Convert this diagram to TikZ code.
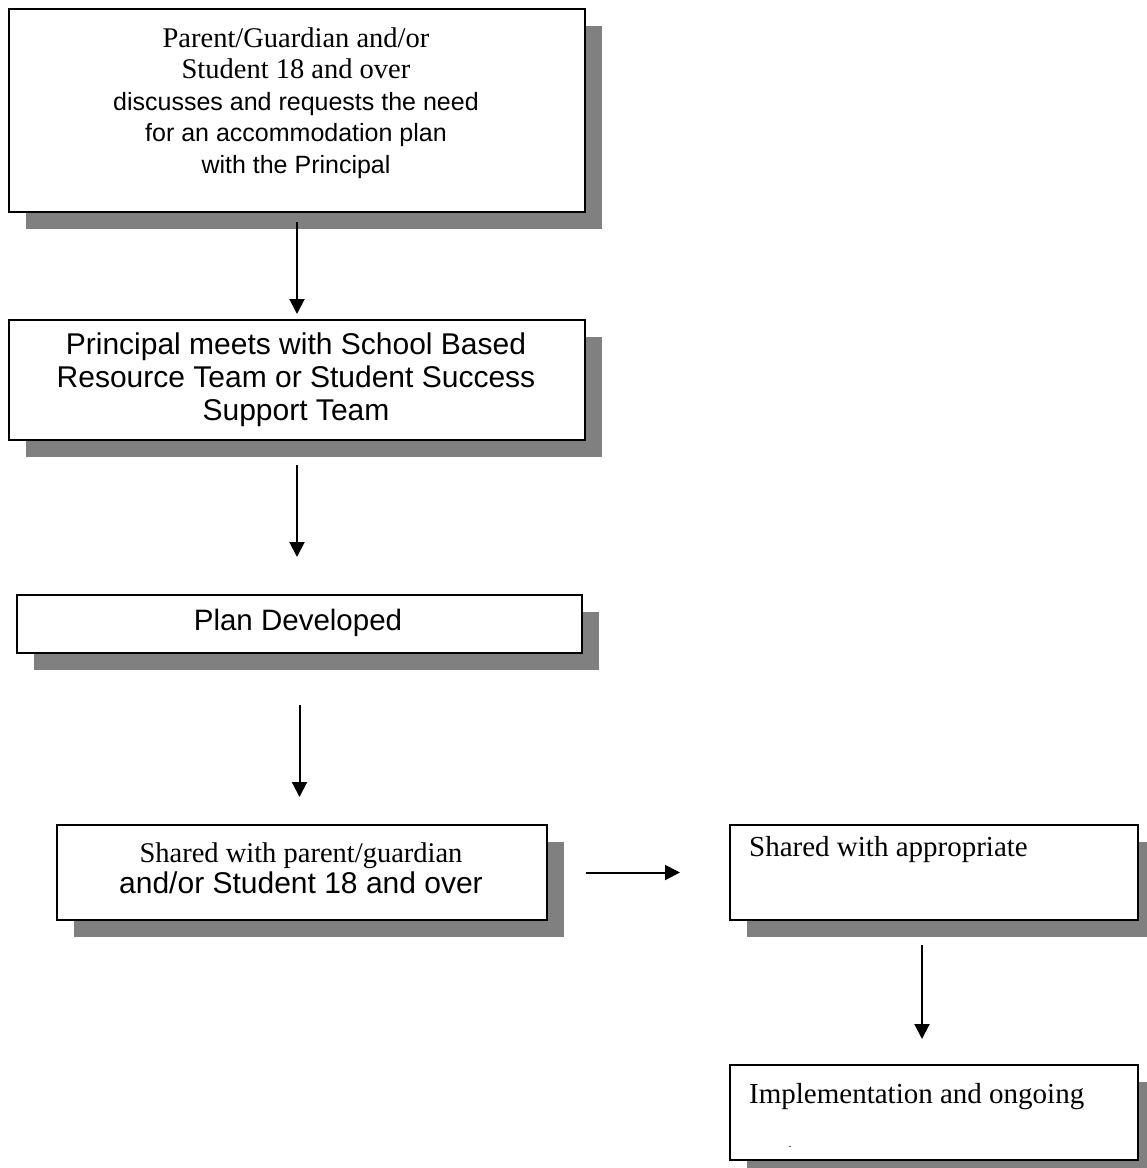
\documentclass[tikz,border=0pt]{standalone}
\usepackage{fontspec}
\setmainfont{Liberation Serif}
\setsansfont{Liberation Sans}
\usetikzlibrary{shadows,arrows.meta}
\definecolor{shadowgray}{HTML}{808080}
\tikzset{
  box/.style={draw=black, line width=2pt, fill=white, anchor=north west, inner sep=0pt,
    drop shadow={shadow xshift=17pt, shadow yshift=-17pt, fill=shadowgray, opacity=1}},
  arr/.style={line width=2pt, -{Triangle[length=15pt,width=15pt]}},
  sf/.style={font=\fontsize{30}{33}\selectfont\sffamily, align=center, inner sep=0pt},
  rm/.style={font=\fontsize{29}{31.5}\selectfont\rmfamily, inner sep=0pt},
}
\newcommand{\serifline}[1]{{\fontsize{28.5}{31.5}\selectfont\rmfamily #1}}
\begin{document}
\begin{tikzpicture}[x=1pt,y=-1pt]
\useasboundingbox (0,0) rectangle (1147,1168);
% boxes
\node[box, minimum width=576pt, minimum height=203pt] (b1) at (8,8) {};
\node[box, minimum width=576pt, minimum height=120pt] (b2) at (8,319) {};
\node[box, minimum width=565pt, minimum height=58pt] (b3) at (16,594) {};
\node[box, minimum width=490pt, minimum height=95pt] (b4) at (56,824) {};
\node[box, minimum width=408pt, minimum height=95pt] (b5) at (729,824) {};
\node[box, minimum width=408pt, minimum height=95pt] (b6) at (729,1064) {};
% texts
\node[sf, font=\fontsize{25}{31.5}\selectfont\sffamily] (t1) at (296,103) {\serifline{Parent/Guardian and/or}\\\serifline{Student 18 and over}\\discusses and requests the need\\for an accommodation plan\\with the Principal};
\node[sf] (t2) at (296,380) {Principal meets with School Based\\Resource Team or Student Success\\Support Team};
\node[sf, font=\fontsize{29.5}{31}\selectfont\sffamily] (t3) at (298,623) {Plan Developed};
\node[sf, font=\fontsize{30}{31}\selectfont\sffamily] (t4) at (301,868) {\serifline{Shared with parent/guardian}\\and/or Student 18 and over};
\node[rm, anchor=base west] (t5) at (749,856) {Shared with appropriate};
\node[rm, anchor=base west] (t6) at (749,1103) {Implementation and ongoing};
\node[font=\fontsize{12}{12}\selectfont, inner sep=0pt] (d6) at (790,1147) {.};
% connectors
\draw[arr, shorten <=9pt, shorten >=5pt] (b1.south) -- (b2.north);
\draw[arr, shorten <=24pt, shorten >=37pt] (b2.south) -- (b2.south |- b3.north);
\draw[arr, shorten <=51pt, shorten >=27pt] (b3.south) -- (b3.south |- b4.north);
\draw[arr, shorten <=38pt, shorten >=49pt] (b4.east) -- (b4.east -| b5.west);
\draw[arr, shorten <=24pt, shorten >=25pt] ([xshift=-12pt]b5.south) -- ([xshift=-12pt]b6.north);
\end{tikzpicture}
\end{document}
